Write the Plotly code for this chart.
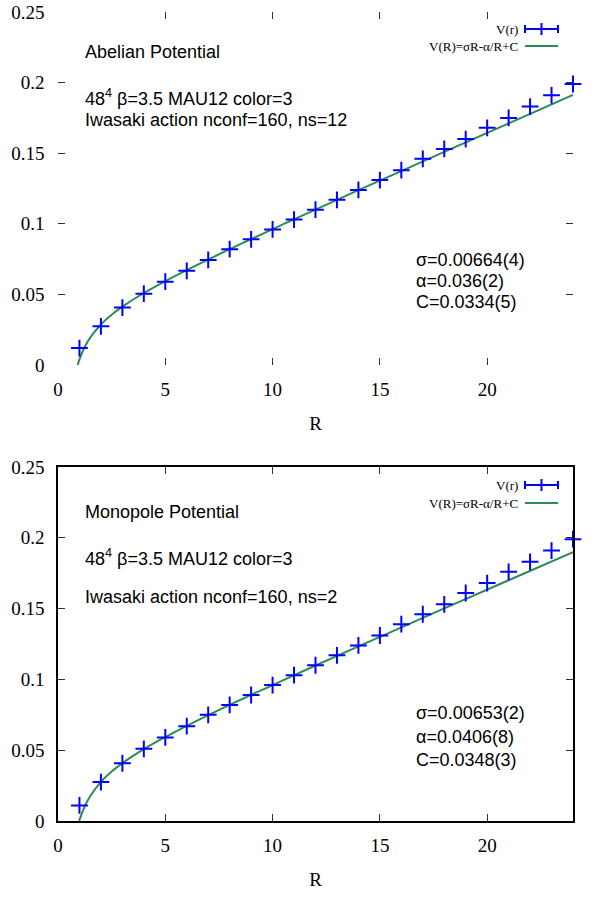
import plotly.graph_objects as go

# ---------------- data ----------------
R = list(range(1, 25))
V_abelian = [0.012, 0.0274, 0.0407, 0.0505, 0.059, 0.0667, 0.0744, 0.082, 0.089, 0.096,
             0.103, 0.110, 0.117, 0.124, 0.131, 0.138, 0.146, 0.153, 0.160, 0.168,
             0.175, 0.183, 0.191, 0.199]
V_monopole = [0.011, 0.0275, 0.0408, 0.051, 0.059, 0.067, 0.075, 0.082, 0.089, 0.096,
              0.103, 0.110, 0.117, 0.124, 0.131, 0.139, 0.146, 0.153, 0.161, 0.168,
              0.176, 0.183, 0.191, 0.199]

fit_R_abelian = [0.92, 1.0, 1.25, 1.5, 2, 2.5, 3, 4, 5, 6, 8, 10, 12, 15, 18, 21, 24]
fit_V_abelian = [0.0, 0.004, 0.0129, 0.0194, 0.0287, 0.0356, 0.0413, 0.0510, 0.0594, 0.0672,
                 0.0820, 0.0962, 0.1101, 0.1306, 0.1509, 0.1711, 0.1913]
fit_R_monopole = [0.98, 1.0, 1.25, 1.5, 2, 2.5, 3, 4, 5, 6, 8, 10, 12, 15, 18, 21, 24]
fit_V_monopole = [0.0, 0.0007, 0.0105, 0.0175, 0.0276, 0.0349, 0.0409, 0.0508, 0.0593, 0.0672,
                  0.0820, 0.0960, 0.1098, 0.1300, 0.1501, 0.1700, 0.1898]

x_ticks = [0, 5, 10, 15, 20]
y_ticks = [0, 0.05, 0.1, 0.15, 0.2, 0.25]
y_tick_text = ["0", "0.05", "0.1", "0.15", "0.2", "0.25"]

titles = ["Abelian Potential", "Monopole Potential"]
info1 = "48<sup>4</sup> β=3.5 MAU12 color=3"
info2 = ["Iwasaki action nconf=160, ns=12", "Iwasaki action nconf=160, ns=2"]
params = [["σ=0.00664(4)", "α=0.036(2)", "C=0.0334(5)"],
          ["σ=0.00653(2)", "α=0.0406(8)", "C=0.0348(3)"]]
legend_labels = ["V(r)", "V(R)=σR-α/R+C"]

# ---------------- style ----------------
BLUE = "#0000ff"
GREEN = "#2e8b57"
SERIF = "Liberation Serif"
SANS = "Liberation Sans"
W, H = 605, 897

def py(ypx):
    return 1 - ypx / H

def px(xpx):
    return xpx / W

x_dom = [px(58), px(573)]
panels = [
    dict(top=12, bottom=365, xa="x", ya="y", border=False),
    dict(top=467, bottom=821, xa="x2", ya="y2", border=True),
]

fig = go.Figure()

data_sets = [(V_abelian, fit_R_abelian, fit_V_abelian), (V_monopole, fit_R_monopole, fit_V_monopole)]
for i, (p, (vals, fr, fv)) in enumerate(zip(panels, data_sets)):
    fig.add_trace(go.Scatter(x=fr, y=fv, mode="lines", line=dict(color=GREEN, width=2, shape="spline"),
                             xaxis=p["xa"], yaxis=p["ya"], showlegend=False, cliponaxis=True))
    fig.add_trace(go.Scatter(x=R, y=vals, mode="markers",
                             marker=dict(symbol="cross-thin", size=12, line=dict(color=BLUE, width=2)),
                             xaxis=p["xa"], yaxis=p["ya"], showlegend=False, cliponaxis=False))

layout = dict(width=W, height=H, margin=dict(l=0, r=0, t=0, b=0, autoexpand=False),
              paper_bgcolor="white", plot_bgcolor="white", showlegend=False,
              font=dict(family=SERIF, size=19, color="black"))

for i, p in enumerate(panels):
    suffix = "" if i == 0 else "2"
    axis_common = dict(ticks="inside", ticklen=7, tickwidth=1, tickcolor="#333333",
                       showgrid=False, zeroline=False, automargin=False,
                       tickfont=dict(family=SERIF, size=19, color="black"),
                       showline=True,
                       linecolor="black" if p["border"] else "rgba(0,0,0,0)", linewidth=1.5,
                       mirror="all" if p["border"] else "ticks")
    layout["xaxis" + suffix] = dict(axis_common, domain=x_dom, range=[0, 24], tickvals=x_ticks,
                                   anchor="y" + suffix, ticklabelstandoff=6,
                                   title=dict(text="R", font=dict(family=SERIF, size=19, color="black"), standoff=18))
    layout["yaxis" + suffix] = dict(axis_common, domain=[py(p["bottom"]), py(p["top"])], range=[0, 0.25],
                                   tickvals=y_ticks, ticktext=y_tick_text,
                                   anchor="x" + suffix, ticklabelstandoff=8)

fig.update_layout(**layout)

# text annotations
ann_pos = [
    dict(title=52, info1=97, info2=120, params=[260, 281, 302]),
    dict(title=512, info1=557, info2=597, params=[713, 737, 760]),
]
for i, a in enumerate(ann_pos):
    def addtxt(text, ypx, xpx=83):
        fig.add_annotation(text=text, x=px(xpx), y=py(ypx), xref="paper", yref="paper",
                           xanchor="left", yanchor="middle", showarrow=False,
                           font=dict(family=SANS, size=18, color="black"))
    addtxt(titles[i], a["title"])
    addtxt(info1, a["info1"])
    addtxt(info2[i], a["info2"])
    for t, yy in zip(params[i], a["params"]):
        addtxt(t, yy, xpx=414)

# custom gnuplot-style legend (text right, sample to the right of it)
leg_y = [(29, 46), (485, 503)]
for (y1, y2) in leg_y:
    for lab, yy in zip(legend_labels, (y1, y2)):
        fig.add_annotation(text=lab, x=px(520), y=py(yy), xref="paper", yref="paper",
                           xanchor="right", yanchor="middle", showarrow=False,
                           font=dict(family=SERIF, size=13, color="black"))
    fig.add_shape(type="line", xref="paper", yref="paper", x0=px(525), x1=px(558), y0=py(y1), y1=py(y1),
                  line=dict(color=BLUE, width=2))
    for xx in (525, 558):
        fig.add_shape(type="line", xref="paper", yref="paper", x0=px(xx), x1=px(xx), y0=py(y1 - 4), y1=py(y1 + 4),
                      line=dict(color=BLUE, width=2))
    fig.add_shape(type="line", xref="paper", yref="paper", x0=px(541.5), x1=px(541.5), y0=py(y1 - 6), y1=py(y1 + 6),
                  line=dict(color=BLUE, width=2))
    fig.add_shape(type="line", xref="paper", yref="paper", x0=px(525), x1=px(558), y0=py(y2), y1=py(y2),
                  line=dict(color=GREEN, width=2))

fig.write_html("out.html", config={"displayModeBar": False},
               post_script="document.body.style.margin='0px';")
